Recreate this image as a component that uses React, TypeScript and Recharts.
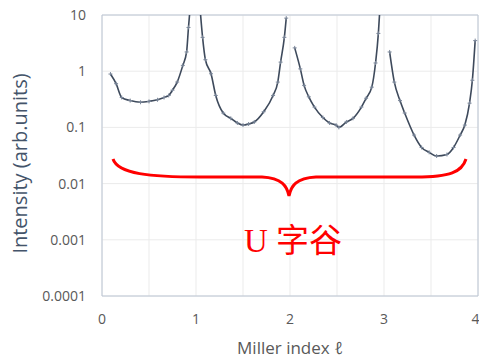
import React from 'react';
import {
  LineChart,
  Line,
  XAxis,
  YAxis,
  CartesianGrid,
  ReferenceLine,
  Label,
} from 'recharts';

// Miller index l and intensity for each of the four U-shaped segments
const ell1 = [0.09, 0.15, 0.21, 0.3, 0.41, 0.5, 0.59, 0.66, 0.71, 0.75, 0.8, 0.86, 0.9, 0.92, 0.935];
const int1 = [0.89, 0.6, 0.34, 0.3, 0.28, 0.29, 0.31, 0.34, 0.37, 0.46, 0.64, 1.27, 2.2, 6, 12];

const ell2 = [1.045, 1.07, 1.1, 1.16, 1.21, 1.29, 1.37, 1.44, 1.5, 1.56, 1.62, 1.72, 1.82, 1.87, 1.9, 1.94, 1.96];
const int2 = [12, 4, 1.6, 0.9, 0.37, 0.18, 0.145, 0.12, 0.11, 0.115, 0.125, 0.19, 0.37, 0.64, 1.45, 4, 8.8];

const ell3 = [2.05, 2.11, 2.15, 2.2, 2.26, 2.35, 2.42, 2.49, 2.52, 2.6, 2.67, 2.76, 2.81, 2.87, 2.91, 2.94, 2.955];
const int3 = [2.6, 1.1, 0.56, 0.35, 0.23, 0.15, 0.12, 0.11, 0.1, 0.125, 0.145, 0.23, 0.33, 0.52, 1.4, 4.7, 12];

const ell4 = [3.06, 3.11, 3.17, 3.22, 3.32, 3.4, 3.48, 3.56, 3.67, 3.74, 3.81, 3.86, 3.91, 3.94, 3.97];
const int4 = [2.2, 0.64, 0.3, 0.18, 0.073, 0.044, 0.036, 0.031, 0.033, 0.044, 0.073, 0.11, 0.27, 0.69, 3.5];

const xTicks = [0, 0.5, 1, 1.5, 2, 2.5, 3, 3.5, 4];
const yTicks = [0.0001, 0.001, 0.01, 0.1, 1, 10];

const toRows = (xs: number[], ys: number[]) => xs.map((l, i) => ({ l, v: ys[i] }));
const segments = [toRows(ell1, int1), toRows(ell2, int2), toRows(ell3, int3), toRows(ell4, int4)];

const LINE = '#3e4a5c';
const AXIS = '#bcc6d4';
const FONT = '"Open Sans", "Noto Sans", sans-serif';

// small "+" marker on each data point
const CrossDot = (props: any) => {
  const { cx, cy, index, payload } = props;
  if (cx == null || cy == null || payload.v > 10) return <g key={`d-${index}`} />;
  return (
    <path
      key={`d-${index}`}
      d={`M${cx - 2},${cy}h4M${cx},${cy - 2}v4`}
      stroke="#7a8699"
      strokeWidth={1}
    />
  );
};

export default function App() {
  return (
    <div style={{ position: 'absolute', left: 0, top: 0, width: 479, height: 359, background: '#fff' }}>
      <LineChart width={479} height={359} margin={{ top: 15, right: 1, left: 0, bottom: 0 }}>
        <CartesianGrid stroke="#ebebeb" />
        <XAxis
          type="number"
          dataKey="l"
          domain={[0, 4]}
          ticks={xTicks}
          tickFormatter={(t: number) => (Number.isInteger(t) ? String(t) : '')}
          height={63}
          tickSize={0}
          tickMargin={18}
          stroke={AXIS}
          tick={{ fill: '#595959', fontSize: 14, fontFamily: FONT }}
        >
          <Label
            value="Miller index ℓ"
            position="insideBottom"
            offset={5}
            style={{ fill: '#595959', fontSize: 17, fontFamily: FONT }}
          />
        </XAxis>
        <YAxis
          scale="log"
          domain={[0.0001, 10]}
          allowDataOverflow
          ticks={yTicks}
          tickFormatter={(t: number) => String(t)}
          width={102}
          tickSize={0}
          tickMargin={16}
          stroke={AXIS}
          tick={{ fill: '#595959', fontSize: 14, fontFamily: FONT }}
        >
          <Label
            value="Intensity (arb.units)"
            angle={-90}
            position="insideLeft"
            offset={20}
            dy={8}
            style={{ fill: '#44546a', fontSize: 20, fontFamily: FONT, textAnchor: 'middle' }}
          />
        </YAxis>
        <ReferenceLine y={10} stroke={AXIS} />
        <ReferenceLine x={4} stroke={AXIS} />
        {segments.map((seg, i) => (
          <Line
            key={`seg-${i}`}
            data={seg}
            dataKey="v"
            type="monotone"
            stroke={LINE}
            strokeWidth={1.6}
            dot={CrossDot}
            activeDot={false}
            isAnimationActive={false}
          />
        ))}
      </LineChart>
      <svg
        width={479}
        height={359}
        style={{ position: 'absolute', left: 0, top: 0, pointerEvents: 'none' }}
      >
        <path
          d="M113,159 C118,174 150,177 200,177 L262,177 C282,178 287,186 289,196 C291,186 296,178 316,177 L416,177 C450,177 462,172 466,159"
          fill="none"
          stroke="#ff0000"
          strokeWidth={3}
        />
        <text
          x={293}
          y={252}
          textAnchor="middle"
          fill="#ff0000"
          fontSize={33}
          fontFamily='"Liberation Serif", "Noto Sans CJK SC", serif'
        >
          U 字谷
        </text>
      </svg>
    </div>
  );
}
